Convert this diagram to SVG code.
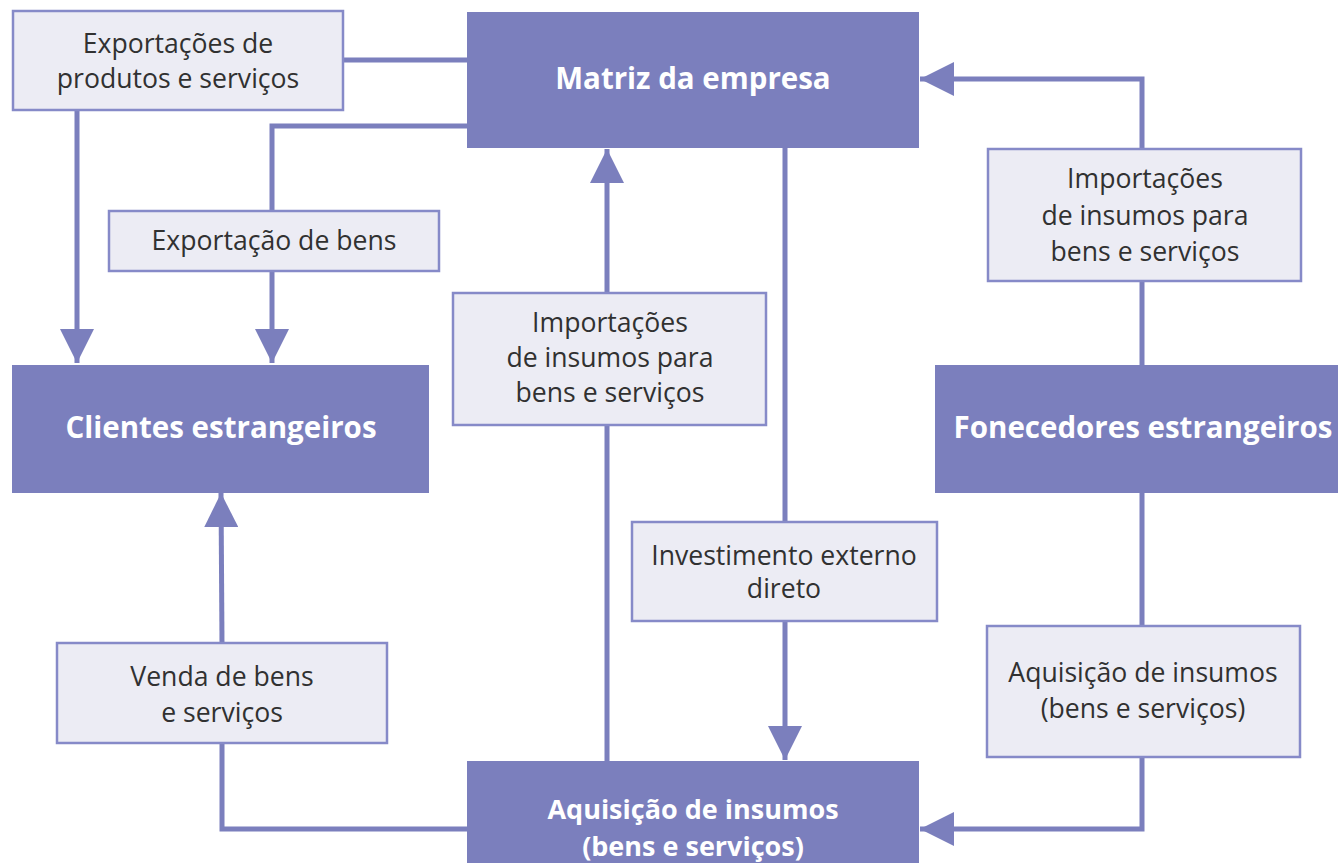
<svg xmlns="http://www.w3.org/2000/svg" width="1338" height="863" viewBox="0 0 1338 863">
  <style>
    .main { fill: #7b7fbd; }
    .label { fill: #ececf4; stroke: #868ac8; stroke-width: 2.5; }
    .mt { font-family: "Open Sans", "Noto Sans", sans-serif; font-size: 29.5px; font-weight: 700; fill: #ffffff; text-anchor: middle; }
    .mt2 { font-size: 27px; }
    .lt { font-family: "Open Sans", "Noto Sans", sans-serif; font-size: 26.6px; fill: #313131; text-anchor: middle; }
    .conn { fill: none; stroke: #7b7fbd; stroke-width: 5; stroke-linejoin: miter; }
  </style>
  <defs>
    <marker id="arrow" viewBox="0 0 34 34" refX="34" refY="17" markerWidth="34" markerHeight="34" markerUnits="userSpaceOnUse" orient="auto">
      <path d="M0,0 L34,17 L0,34 Z" fill="#7b7fbd"/>
    </marker>
  </defs>
  <rect width="1338" height="863" fill="#ffffff"/>

  <g id="connectors">
    <path class="conn" d="M343,60 L467,60"/>
    <path class="conn" d="M77,110 L77,363" marker-end="url(#arrow)"/>
    <path class="conn" d="M467,126 L272,126 L272,211"/>
    <path class="conn" d="M272,271 L272,363" marker-end="url(#arrow)"/>
    <path class="conn" d="M607,761 L607,425"/>
    <path class="conn" d="M607,293 L607,149" marker-end="url(#arrow)"/>
    <path class="conn" d="M785,148 L785,522"/>
    <path class="conn" d="M785,621 L785,760" marker-end="url(#arrow)"/>
    <path class="conn" d="M1142,365 L1142,281"/>
    <path class="conn" d="M1142,149 L1142,79 L920,79" marker-end="url(#arrow)"/>
    <path class="conn" d="M1142,493 L1142,626"/>
    <path class="conn" d="M1142,757 L1142,829 L920,829" marker-end="url(#arrow)"/>
    <path class="conn" d="M222,643 L221,493" marker-end="url(#arrow)"/>
    <path class="conn" d="M222,743 L222,829 L467,829"/>
  </g>

  <g id="matriz">
    <rect class="main" x="467" y="12" width="452" height="136"/>
    <text class="mt" x="693" y="89">Matriz da empresa</text>
  </g>

  <g id="clientes">
    <rect class="main" x="12" y="365" width="417" height="128"/>
    <text class="mt" x="221" y="438">Clientes estrangeiros</text>
  </g>

  <g id="fornecedores">
    <rect class="main" x="935" y="365" width="403" height="128"/>
    <text class="mt" x="1143" y="438">Fonecedores estrangeiros</text>
  </g>

  <g id="aquisicao">
    <rect class="main" x="467" y="761" width="452" height="102"/>
    <text class="mt mt2" x="693" y="819">Aquisição de insumos</text>
    <text class="mt mt2" x="693" y="856">(bens e serviços)</text>
  </g>

  <g id="exportacoes">
    <rect class="label" x="13" y="11" width="330" height="99"/>
    <text class="lt" x="178" y="53">Exportações de</text>
    <text class="lt" x="178" y="88">produtos e serviços</text>
  </g>

  <g id="exportacao-bens">
    <rect class="label" x="109" y="211" width="330" height="60"/>
    <text class="lt" x="274" y="250">Exportação de bens</text>
  </g>

  <g id="importacoes-centro">
    <rect class="label" x="453" y="293" width="313" height="132"/>
    <text class="lt" x="610" y="332">Importações</text>
    <text class="lt" x="610" y="367">de insumos para</text>
    <text class="lt" x="610" y="402">bens e serviços</text>
  </g>

  <g id="importacoes-direita">
    <rect class="label" x="988" y="149" width="313" height="132"/>
    <text class="lt" x="1145" y="188">Importações</text>
    <text class="lt" x="1145" y="225">de insumos para</text>
    <text class="lt" x="1145" y="261">bens e serviços</text>
  </g>

  <g id="investimento">
    <rect class="label" x="632" y="522" width="305" height="99"/>
    <text class="lt" x="784" y="565">Investimento externo</text>
    <text class="lt" x="784" y="598">direto</text>
  </g>

  <g id="venda">
    <rect class="label" x="57" y="643" width="330" height="100"/>
    <text class="lt" x="222" y="686">Venda de bens</text>
    <text class="lt" x="222" y="722">e serviços</text>
  </g>

  <g id="aquisicao-direita">
    <rect class="label" x="987" y="626" width="313" height="131"/>
    <text class="lt" x="1143" y="682">Aquisição de insumos</text>
    <text class="lt" x="1143" y="718">(bens e serviços)</text>
  </g>
</svg>
